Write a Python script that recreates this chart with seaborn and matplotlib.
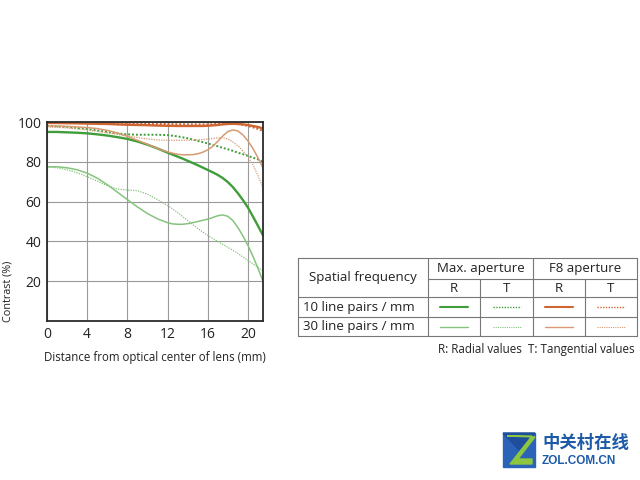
import numpy as np
import pandas as pd
import matplotlib
matplotlib.use("Agg")
import matplotlib.pyplot as plt
import seaborn as sns
from matplotlib.patches import Rectangle, Polygon

# ---- data ----
x_mm = [0, 1, 2, 3, 4, 5, 6, 7, 8, 9, 10, 11, 12,
        12.5, 13, 13.5, 14, 14.5, 15, 15.5, 16, 16.5, 17, 17.5, 18, 18.5, 19, 19.5,
        20, 20.5, 21, 21.5]

max_r10 = [95, 95, 94.8, 94.6, 94.3, 93.8, 93.2, 92.4, 91.5, 90.2, 88.6, 86.7, 84.6,
           83.6, 82.6, 81.6, 80.5, 79.4, 78.3, 77.1, 75.9, 74.7, 73.4, 71.8, 69.8, 67.3,
           64.2, 60.8, 57, 52.5, 47.8, 43]
max_t10 = [98, 97.8, 97.5, 97, 96.5, 95.8, 95, 94.3, 93.8, 93.6, 93.6, 93.6, 93.4,
           93.1, 92.8, 92.3, 91.8, 91.2, 90.5, 89.9, 89.2, 88.5, 87.8, 87, 86.3, 85.5,
           84.6, 83.8, 83, 82.1, 81.2, 80]
max_r30 = [77.5, 77.5, 77, 76, 74.3, 71.8, 68.5, 64.8, 61, 57.3, 54, 51.3, 49.4,
           48.8, 48.6, 48.6, 48.9, 49.4, 50, 50.6, 51.2, 52, 52.9, 53.3, 52.6, 50.5,
           47, 42.8, 38, 32.5, 26.5, 20]
max_t30 = [77.5, 77, 76, 74.5, 72.5, 70.3, 68, 66.3, 65.8, 65.5, 63.7, 61, 58,
           56.3, 54.5, 52.5, 50.5, 48.5, 46.5, 44.7, 43, 41.5, 40, 38.5, 37, 35.5,
           34, 32.2, 30.5, 28.7, 27, 25]
f8_r10 = [99.5, 99.5, 99.4, 99.3, 99.2, 99.1, 99, 98.8, 98.6, 98.5, 98.4, 98.2, 98.1,
          98.05, 98, 98, 98, 98, 98, 98, 98.1, 98.3, 98.5, 98.8, 99, 99.1,
          99, 98.8, 98.5, 98, 97.5, 96.8]
f8_t10 = [99.8, 99.8, 99.7, 99.6, 99.5, 99.4, 99.4, 99.3, 99.3, 99.2, 99.1, 99, 99,
          98.95, 98.9, 98.85, 98.8, 98.8, 98.8, 98.8, 98.8, 98.9, 99.1, 99.3, 99.5, 99.4,
          99, 98.6, 98, 97.3, 96.5, 95.5]
f8_r30 = [98, 98, 97.8, 97.5, 97.2, 96.7, 95.8, 94.5, 92.8, 90.8, 88.8, 86.7, 85,
          84.3, 83.8, 83.5, 83.5, 83.6, 84, 84.8, 86, 87.8, 90.3, 93, 95.2, 96,
          95.5, 93.5, 90.5, 86.7, 82, 77]
f8_t30 = [97.5, 97.3, 97, 96.5, 96, 95.3, 94.5, 93.8, 93, 92.2, 91.5, 91, 90.8,
          90.8, 90.8, 90.8, 90.8, 90.9, 91, 91.2, 91.4, 91.7, 92, 92.1, 91.5, 90,
          88, 85.5, 82.5, 78.5, 73, 67]

x_ticks = [0, 4, 8, 12, 16, 20]
y_ticks = [20, 40, 60, 80, 100]

GREEN_D = "#3f9e3a"
GREEN_L = "#86c47e"
ORANGE_D = "#cf6530"
ORANGE_L = "#d79a72"
DOT = (0, (1, 1))

sns.set_style("white")
plt.rcParams["font.family"] = ["Open Sans", "DejaVu Sans"]

fig = plt.figure(figsize=(6.4, 4.8), dpi=100)
fig.patch.set_facecolor("white")

W, H = 640, 480
ax = fig.add_axes([47 / W, 1 - 321 / H, (263 - 47) / W, (321 - 122) / H])

series = [
    (max_t30, GREEN_L, 0.9, DOT),
    (max_r30, GREEN_L, 1.1, "-"),
    (max_t10, GREEN_D, 1.4, DOT),
    (max_r10, GREEN_D, 1.7, "-"),
    (f8_t30, ORANGE_L, 0.9, DOT),
    (f8_r30, ORANGE_L, 1.1, "-"),
    (f8_t10, ORANGE_D, 1.4, DOT),
    (f8_r10, ORANGE_D, 1.7, "-"),
]
for vals, col, lw, ls in series:
    sns.lineplot(x=x_mm, y=vals, ax=ax, color=col, linewidth=lw, linestyle=ls)

ax.set_xlim(0, 21.5)
ax.set_ylim(0, 100)
ax.set_xticks(x_ticks)
ax.set_yticks(y_ticks)
ax.set_yticklabels([str(v) for v in y_ticks])
ax.grid(True, color="#9a9a9a", linewidth=0.8)
ax.set_axisbelow(True)
for s in ax.spines.values():
    s.set_color("#2a2a2a")
    s.set_linewidth(1.3)
ax.tick_params(axis="both", length=0, labelsize=10, colors="#222222", pad=4)
ax.set_xlabel("Distance from optical center of lens (mm)", fontsize=8.3, color="#222222", labelpad=7)
ax.set_ylabel("Contrast (%)", fontsize=7.8, color="#222222", labelpad=6)
ax.yaxis.set_label_coords(-0.155, 0.15)

# ---- legend table drawn in pixel space ----
ov = fig.add_axes([0, 0, 1, 1], zorder=-1)
ov.set_xlim(0, W)
ov.set_ylim(H, 0)
ov.axis("off")
lc = "#777777"
lwt = 0.8
L, C1, C2, C3, C4, R = 298, 428, 480, 533, 585, 637
T0, T1, T2, T3, T4 = 258, 279, 297, 317, 336
for yy in (T0, T2, T3, T4):
    ov.plot([L, R], [yy, yy], color=lc, lw=lwt)
ov.plot([C1, R], [T1, T1], color=lc, lw=lwt)
for xx in (L, C1, C3, R):
    ov.plot([xx, xx], [T0, T4], color=lc, lw=lwt)
for xx in (C2, C4):
    ov.plot([xx, xx], [T1, T4], color=lc, lw=lwt)

tc = "#222222"
fs = 9.5
ov.text((L + C1) / 2, (T0 + T2) / 2, "Spatial frequency", ha="center", va="center", fontsize=fs, color=tc)
ov.text((C1 + C3) / 2, (T0 + T1) / 2, "Max. aperture", ha="center", va="center", fontsize=fs, color=tc)
ov.text((C3 + R) / 2, (T0 + T1) / 2, "F8 aperture", ha="center", va="center", fontsize=fs, color=tc)
for a, b, t in ((C1, C2, "R"), (C2, C3, "T"), (C3, C4, "R"), (C4, R, "T")):
    ov.text((a + b) / 2, (T1 + T2) / 2, t, ha="center", va="center", fontsize=fs, color=tc)
ov.text(L + 5, (T2 + T3) / 2, "10 line pairs / mm", ha="left", va="center", fontsize=fs, color=tc)
ov.text(L + 5, (T3 + T4) / 2, "30 line pairs / mm", ha="left", va="center", fontsize=fs, color=tc)

samples = [
    ((T2 + T3) / 2, [(C1, C2, GREEN_D, 1.5, "-"), (C2, C3, GREEN_D, 1.0, DOT),
                     (C3, C4, ORANGE_D, 1.5, "-"), (C4, R, ORANGE_D, 1.0, DOT)]),
    ((T3 + T4) / 2, [(C1, C2, GREEN_L, 1.0, "-"), (C2, C3, GREEN_L, 0.8, DOT),
                     (C3, C4, ORANGE_L, 1.0, "-"), (C4, R, ORANGE_L, 0.8, DOT)]),
]
for yy, items in samples:
    for a, b, col, lw, ls in items:
        m = (a + b) / 2
        ov.plot([m - 14, m + 14], [yy, yy], color=col, lw=lw, linestyle=ls)

ov.text(R - 2, 349, "R: Radial values  T: Tangential values", ha="right", va="center",
        fontsize=8.4, color=tc)

# ---- watermark ----
ov.add_patch(Rectangle((503, 433), 32, 34, color="#2a63b8"))
ov.add_patch(Polygon([[503, 433], [535, 433], [519, 450]], color="#1f4f9c"))
ov.add_patch(Polygon([[507, 436], [532, 436], [510, 464], [532, 464], [532, 459], [518, 459],
                      [535, 437]], color="#8dc63f"))
ov.text(542, 443, "中关村在线", ha="left", va="center", fontsize=12.5, color="#1d5aa8",
        family=["Noto Sans CJK SC", "DejaVu Sans"], fontweight="bold")
ov.text(542, 461, "ZOL.COM.CN", ha="left", va="center", fontsize=8.5, color="#1d5aa8",
        family=["Liberation Sans", "DejaVu Sans"], fontweight="bold")

fig.savefig("out.png", dpi=100, facecolor="white")
